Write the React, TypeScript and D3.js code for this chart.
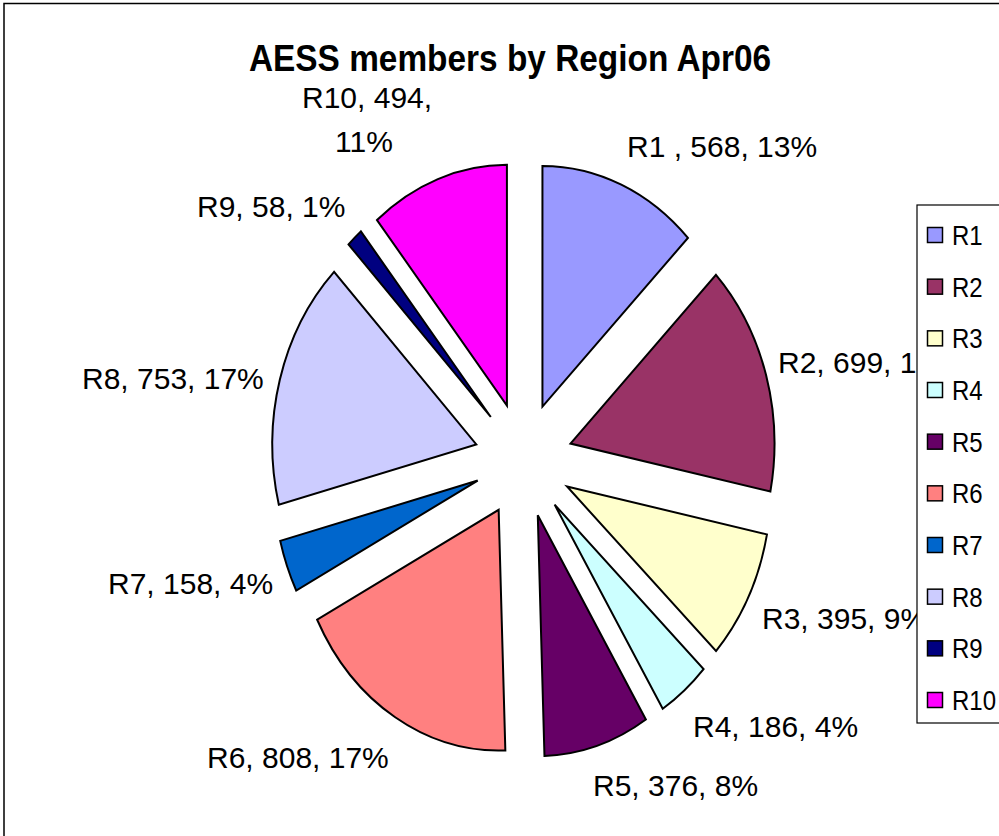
import React from "react";
import * as d3 from "d3";

const TITLE = "AESS members by Region Apr06";
const categories = ["R1 ", "R2", "R3", "R4", "R5", "R6", "R7", "R8", "R9", "R10"];
const legendNames = ["R1", "R2", "R3", "R4", "R5", "R6", "R7", "R8", "R9", "R10"];
const values = [568, 699, 395, 186, 376, 808, 158, 753, 58, 494];
const percentLabels = ["13%", "16%", "9%", "4%", "8%", "17%", "4%", "17%", "1%", "11%"];
const colors = ["#9999FF", "#993366", "#FFFFCC", "#CCFFFF", "#660066", "#FF8080", "#0066CC", "#CCCCFF", "#000080", "#FF00FF"];

// layout (not data)
const W = 999, H = 836;
const CX = 523.5, CY = 460, RX = 204, YSCALE = 1.18, EXPLODE = 49;
// label anchor positions (left x, baseline y) per slice
const LABEL_POS: [number, number][] = [
  [627, 157], [778, 373], [762, 629], [693, 737], [593, 796],
  [207, 768], [108, 594], [82, 389], [197, 217], [302, 108],
];
const FONT = "'Liberation Sans', Arial, Helvetica, sans-serif";

export default function App() {
  const pie = d3.pie<number>().sort(null).value((d) => d).startAngle(0).endAngle(2 * Math.PI);
  const arcs = pie(values);
  const arc = d3.arc<d3.PieArcDatum<number>>().innerRadius(0).outerRadius(RX);

  const legendTop = 205, legendBottom = 723, legendX = 917;
  const legendY = d3.scalePoint<string>().domain(legendNames).range([235, 700]);
  const titleBase = 71;

  return (
    <svg width={W} height={H} style={{ position: "absolute", left: 0, top: 0, background: "#fff" }} fontFamily={FONT}>
      <rect x={0} y={0} width={W} height={H} fill="#fff" />
      <rect x={4} y={3.5} width={W + 20} height={H + 20} fill="none" stroke="#000" strokeWidth={1.5} />
      <text
        x={510}
        y={titleBase}
        textAnchor="middle"
        fontWeight="bold"
        fontSize={33.4}
        transform={`translate(0,${titleBase}) scale(1,1.12) translate(0,${-titleBase})`}
      >
        {TITLE}
      </text>

      <g transform={`translate(${CX},${CY}) scale(1,${YSCALE})`}>
        {arcs.map((a, i) => {
          const mid = (a.startAngle + a.endAngle) / 2;
          const ox = Math.sin(mid) * EXPLODE;
          const oy = -Math.cos(mid) * EXPLODE;
          return (
            <path
              key={i}
              d={arc(a) || ""}
              transform={`translate(${ox},${oy})`}
              fill={colors[i]}
              stroke="#000"
              strokeWidth={2}
              strokeLinejoin="miter"
              vectorEffect="non-scaling-stroke"
            />
          );
        })}
      </g>

      {arcs.map((a, i) => {
        const [lx, ly] = LABEL_POS[i];
        if (i === 9) {
          return (
            <g key={i} fontSize={30}>
              <text x={lx} y={ly}>{`${categories[i]}, ${values[i]},`}</text>
              <text x={lx + 33} y={ly + 44}>{percentLabels[i]}</text>
            </g>
          );
        }
        return (
          <text key={i} x={lx} y={ly} fontSize={30}>{`${categories[i]}, ${values[i]}, ${percentLabels[i]}`}</text>
        );
      })}

      <rect x={legendX} y={legendTop} width={W} height={legendBottom - legendTop} fill="#fff" stroke="#000" strokeWidth={1.2} />
      {legendNames.map((n, i) => {
        const y = legendY(n)!;
        return (
          <g key={n}>
            <rect x={927.5} y={y - 7.5} width={15} height={15} fill={colors[i]} stroke="#000" strokeWidth={1.5} />
            <text x={952} y={y} fontSize={24} transform={`translate(0,${y}) scale(1,1.17) translate(0,${-y})`} dy={8.5}>{n}</text>
          </g>
        );
      })}
    </svg>
  );
}
